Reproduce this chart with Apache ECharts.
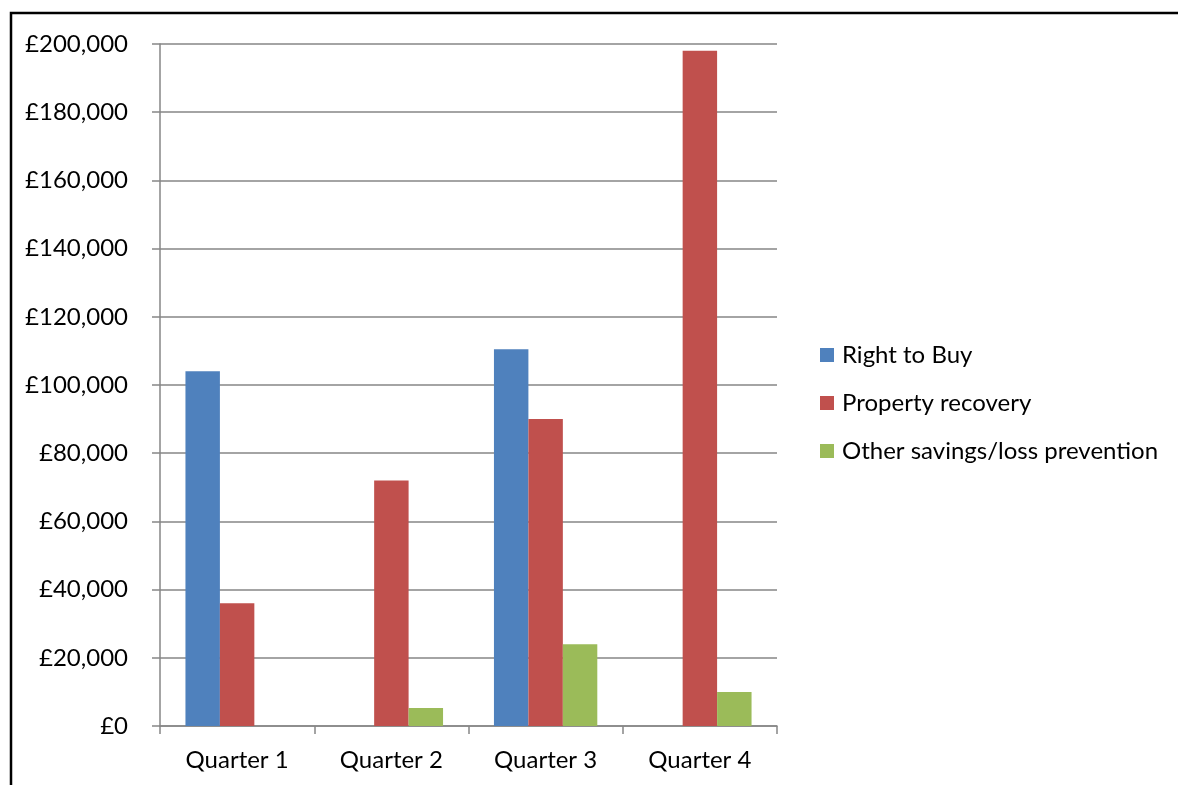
<!DOCTYPE html>
<html>
<head>
<meta charset="utf-8">
<script src="https://cdn.jsdelivr.net/npm/echarts@6/dist/echarts.min.js"></script>
<style>
  html, body { margin: 0; padding: 0; background: #ffffff; }
  #chart { width: 1178px; height: 785px; }
</style>
</head>
<body>
<div id="chart"></div>
<script>
// Quarterly savings by category (GBP)
const quarters = ['Quarter 1', 'Quarter 2', 'Quarter 3', 'Quarter 4'];
const rightToBuy = [104000, null, 110500, null];
const propertyRecovery = [36000, 72000, 90000, 198000];
const otherSavings = [null, 5300, 24000, 10000];
const seriesNames = ['Right to Buy', 'Property recovery', 'Other savings/loss prevention'];
const seriesColors = ['#4F81BD', '#C0504D', '#9BBB59'];

const FONT = 'Lato, "Open Sans", sans-serif';
const GRID_GREY = '#868686';

function pounds(v) {
  return '£' + v.toLocaleString('en-GB');
}

const chart = echarts.init(document.getElementById('chart'), null, { renderer: 'canvas' });

const values = [rightToBuy, propertyRecovery, otherSavings];

chart.setOption({
  animation: false,
  backgroundColor: '#ffffff',
  textStyle: { fontFamily: FONT },
  graphic: [{
    type: 'rect',
    shape: { x: 11, y: 13, width: 1300, height: 900 },
    style: { fill: 'none', stroke: '#000000', lineWidth: 2.5 },
    silent: true,
    z: 100
  }],
  grid: { left: 160, right: 401, top: 44, bottom: 59 },
  legend: {
    orient: 'vertical',
    left: 820,
    top: 343,
    padding: 0,
    itemWidth: 14,
    itemHeight: 14,
    itemGap: 24,
    icon: 'rect',
    textStyle: { fontFamily: FONT, fontSize: 24, lineHeight: 24, color: '#000000', padding: [0, 0, 0, 3] },
    data: seriesNames
  },
  xAxis: {
    type: 'category',
    data: quarters,
    axisLine: { lineStyle: { color: GRID_GREY, width: 1.5 } },
    axisTick: { show: true, length: 8, lineStyle: { color: GRID_GREY, width: 1.5 } },
    axisLabel: { color: '#000000', fontSize: 24, fontFamily: FONT, margin: 22 }
  },
  yAxis: {
    type: 'value',
    min: 0,
    max: 200000,
    interval: 20000,
    axisLine: { show: true, lineStyle: { color: GRID_GREY, width: 1.5 } },
    axisTick: { show: true, length: 8, lineStyle: { color: GRID_GREY, width: 1.5 } },
    splitLine: { show: true, lineStyle: { color: GRID_GREY, width: 1.5 } },
    axisLabel: { color: '#000000', fontSize: 24, fontFamily: FONT, margin: 32, formatter: pounds }
  },
  series: seriesNames.map((name, i) => ({
    name: name,
    type: 'bar',
    data: values[i],
    barGap: '0%',
    barCategoryGap: '33%',
    itemStyle: { color: seriesColors[i] }
  }))
});
</script>
</body>
</html>
